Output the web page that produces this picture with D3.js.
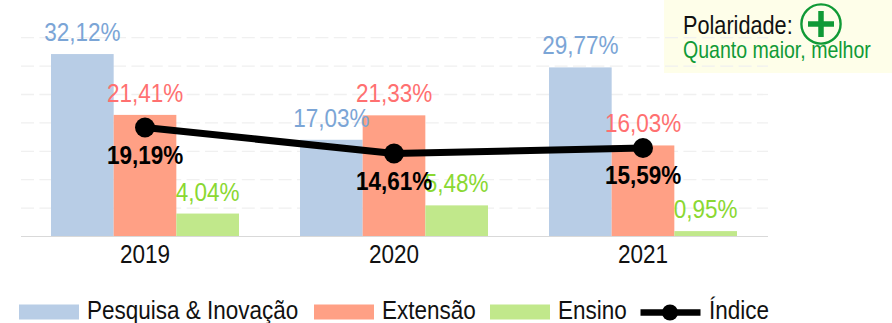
<!DOCTYPE html>
<html><head><meta charset="utf-8">
<script src="https://cdn.jsdelivr.net/npm/d3@7"></script>
<style>html,body{margin:0;padding:0;background:#fff}svg{display:block}text{font-family:"Liberation Sans",sans-serif}</style>
</head><body><svg id="c" width="892" height="323"></svg>
<script>
const years=["2019","2020","2021"];
const seriesNames=["Pesquisa & Inovação","Extensão","Ensino"];
const pesquisa=[32.12,17.03,29.77];
const extensao=[21.41,21.33,16.03];
const ensino=[4.04,5.48,0.95];
const indice=[19.19,14.61,15.59];
const gridTicks=[5,10,15,20,25,30,35];
const barColors=["#b8cde6","#ffa085","#c1e88b"];
const labelColors=["#7ba5d6","#ff7070","#8ad832"];
const fmt=v=>v.toFixed(2).replace(".",",")+"%";
const svg=d3.select("#c");
const x=d3.scaleBand().domain(years).range([20.5,767.5]);
const y=d3.scaleLinear().domain([0,35]).range([236.5,37.7]);
const inner=d3.scaleBand().domain([0,1,2]).range([30.5,218.5]);
function txt(g,t,px,py,size,fill,weight,sx){
  return g.append("text").attr("transform",`translate(${px},${py}) scale(${sx||0.9},1)`)
   .attr("text-anchor","middle").attr("font-size",size).attr("fill",fill)
   .attr("font-weight",weight||"normal").text(t);
}
svg.append("rect").attr("x",664).attr("y",0).attr("width",228).attr("height",73).attr("fill","#fefee9");
svg.append("g").selectAll("line").data(gridTicks).join("line")
  .attr("x1",21).attr("x2",768).attr("y1",d=>y(d)).attr("y2",d=>y(d))
  .attr("stroke","#f0f0f0").attr("stroke-width",1.3).attr("stroke-dasharray","13 5.4");
const all=[pesquisa,extensao,ensino];
all.forEach((vals,s)=>{
  svg.append("g").selectAll("rect").data(vals).join("rect")
   .attr("x",(d,i)=>x(years[i])+inner(s)).attr("width",inner.bandwidth())
   .attr("y",d=>y(d)).attr("height",d=>y(0)-y(d)).attr("fill",barColors[s]);
});
svg.append("line").attr("x1",21).attr("x2",768).attr("y1",y(0)).attr("y2",y(0)).attr("stroke","#d9d9d9").attr("stroke-width",1.2);
const xc=d=>x(d)+x.bandwidth()/2;
const line=d3.line().x((d,i)=>xc(years[i])).y(d=>y(d));
svg.append("path").attr("d",line(indice)).attr("fill","none").attr("stroke","#000").attr("stroke-width",7);
svg.append("g").selectAll("circle").data(indice).join("circle")
 .attr("cx",(d,i)=>xc(years[i])).attr("cy",d=>y(d)).attr("r",10).attr("fill","#000");
all.forEach((vals,s)=>{
  vals.forEach((v,i)=>{
    txt(svg,fmt(v),x(years[i])+inner(s)+inner.bandwidth()/2,y(v)-13,25,labelColors[s]);
  });
});
indice.forEach((v,i)=>txt(svg,fmt(v),xc(years[i]),y(v)+36,25,"#000","bold"));
years.forEach(t=>txt(svg,t,xc(t),263,25,"#111"));
// legend
const items=[[19,79,87],[314,374,382],[490,550,558]];
seriesNames.forEach((n,i)=>{
  svg.append("rect").attr("x",items[i][0]).attr("y",304.5).attr("width",60).attr("height",15).attr("fill",barColors[i]);
  txt(svg,n,items[i][2],319,25,"#111").attr("text-anchor","start");
});
svg.append("line").attr("x1",640.5).attr("x2",700.5).attr("y1",312.5).attr("y2",312.5).attr("stroke","#000").attr("stroke-width",6.5);
svg.append("circle").attr("cx",670).attr("cy",312.5).attr("r",8).attr("fill","#000");
txt(svg,"Índice",709,319,25,"#111").attr("text-anchor","start");
// polarity
txt(svg,"Polaridade:",683,34.3,25,"#111",null,0.868).attr("text-anchor","start");
txt(svg,"Quanto maior, melhor",683,58.3,23,"#109a36",null,0.85).attr("text-anchor","start");
svg.append("circle").attr("cx",821).attr("cy",24).attr("r",19.6).attr("fill","none").attr("stroke","#109a36").attr("stroke-width",2.4);
svg.append("path").attr("d","M808 24H834M821 11V37").attr("stroke","#109a36").attr("stroke-width",5.5).attr("fill","none");
</script></body></html>
